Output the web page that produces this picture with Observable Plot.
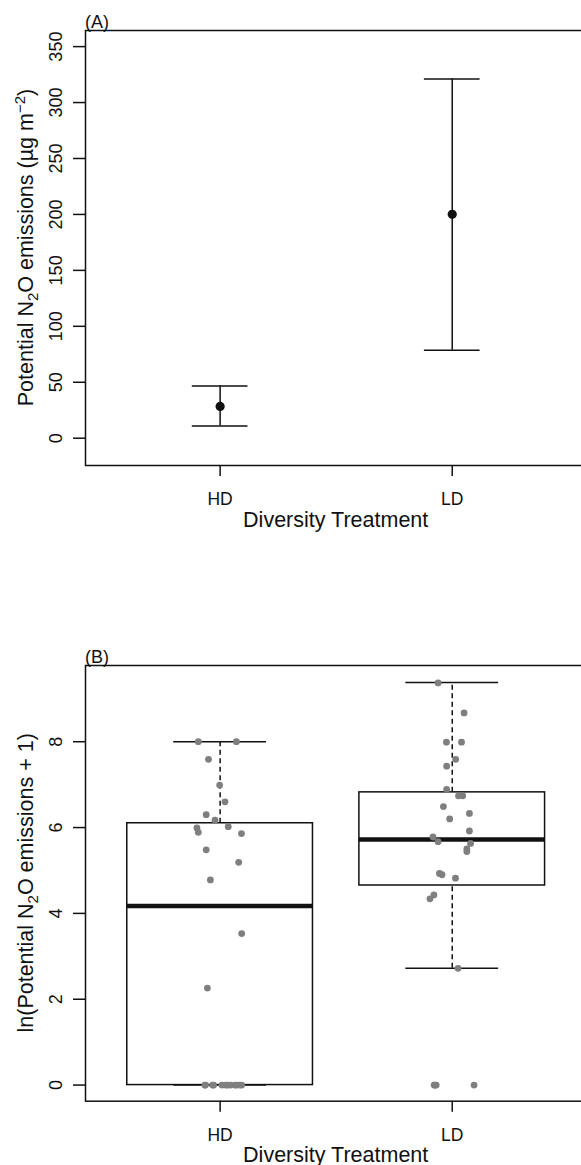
<!DOCTYPE html>
<html>
<head>
<meta charset="utf-8">
<script src="https://cdn.jsdelivr.net/npm/d3@7"></script>
<script src="https://cdn.jsdelivr.net/npm/@observablehq/plot@0.6"></script>
<style>
  html, body { margin: 0; padding: 0; background: #fff; overflow: hidden; width: 581px; height: 1165px; }
  #chart svg { display: block; max-width: none !important; height: auto; }
</style>
</head>
<body>
<div id="chart"></div>
<script>
// ---------- data ----------
const categories = ["HD", "LD"];
const catPos = [1, 2];

// Panel A: mean ± error of potential N2O emissions (µg m-2)
const meanEmission = [28.4, 200.1];
const errLow = [10.8, 78.6];
const errHigh = [46.6, 321.1];
const yTicksA = [0, 50, 100, 150, 200, 250, 300, 350];

// Panel B: ln(potential N2O emissions + 1), individual jittered observations
const hdValues = [8.00, 8.00, 7.59, 6.99, 6.60, 6.30, 6.17, 6.02, 5.99, 5.89, 5.86, 5.48, 5.19, 4.78, 3.53, 2.26,
                  0, 0, 0, 0, 0, 0, 0, 0, 0, 0, 0, 0];
const hdJitter = [-0.094, 0.070, -0.050, -0.002, 0.021, -0.060, -0.022, 0.035, -0.100, -0.094, 0.092, -0.060, 0.080, -0.042, 0.093, -0.055,
                  -0.066, -0.063, -0.032, -0.028, 0.008, 0.025, 0.032, 0.045, 0.064, 0.071, 0.085, 0.093];
const ldValues = [9.37, 8.67, 7.99, 7.99, 7.59, 7.43, 6.89, 6.74, 6.74, 6.49, 6.33, 6.20, 5.92, 5.78, 5.67, 5.63, 5.50, 5.44,
                  4.93, 4.90, 4.82, 4.43, 4.34, 2.72, 0, 0, 0, 0];
const ldJitter = [-0.061, 0.051, -0.025, 0.040, 0.015, -0.024, -0.024, 0.027, 0.045, -0.038, 0.074, -0.011, 0.074, -0.083, -0.061, 0.079, 0.063, 0.063,
                  -0.055, -0.044, 0.014, -0.079, -0.096, 0.025, -0.078, -0.074, -0.069, 0.094];
// box statistics (hinges, median, whisker ends)
const boxQ1 = [0, 4.65];
const boxMedian = [4.17, 5.72];
const boxQ3 = [6.10, 6.82];
const whiskerLo = [0, 2.72];
const whiskerHi = [8.00, 9.38];
const yTicksB = [0, 2, 4, 6, 8];

// ---------- styling constants ----------
const FONT = "'Liberation Sans', Arial, Helvetica, sans-serif";
const INK = "#111";
const LW = 1.5;
const W = 591;
const xDomain = [0.42, 2.6];
const capA = 0.12, boxHalf = 0.4, capB = 0.2;

const tableA = categories.map((c, i) => ({cat: c, x: catPos[i], mean: meanEmission[i], lo: errLow[i], hi: errHigh[i]}));
const tableB = categories.map((c, i) => ({cat: c, x: catPos[i], q1: boxQ1[i], med: boxMedian[i], q3: boxQ3[i], lo: whiskerLo[i], hi: whiskerHi[i]}));
const pts = [
  ...hdValues.map((v, i) => ({cat: "HD", x: catPos[0] + hdJitter[i], v})),
  ...ldValues.map((v, i) => ({cat: "LD", x: catPos[1] + ldJitter[i], v}))
];

function axes(yTicks) {
  return [
    Plot.axisY({ticks: yTicks, tickSize: 12, tickRotate: -90, tickPadding: 12, fontSize: 18, label: null, strokeWidth: LW, stroke: INK, fill: INK}),
    Plot.axisX({ticks: catPos, tickFormat: d => categories[catPos.indexOf(d)], tickSize: 11, tickPadding: 16, fontSize: 17.5, label: null, strokeWidth: LW, stroke: INK, fill: INK})
  ];
}

let xScaleFn;
function decorate(svg, mTop, mBottom, height, panel, titleParts, xTitleBaseline) {
  const s = d3.select(svg);
  const cy = (mTop + height - mBottom) / 2;
  const t = s.append("text")
    .attr("transform", `translate(33,${cy}) rotate(-90)`)
    .attr("text-anchor", "middle")
    .attr("font-family", FONT)
    .attr("font-size", 21.5)
    .attr("fill", INK);
  let shift = 0;
  for (const [str, kind] of titleParts) {
    const sp = t.append("tspan").text(str);
    const target = kind === "sub" ? 5 : kind === "sup" ? -8 : 0;
    sp.attr("dy", target - shift);
    shift = target;
    if (kind) sp.attr("font-size", 15);
  }
  s.append("text")
    .attr("x", (xScaleFn(1) + xScaleFn(2)) / 2)
    .attr("y", xTitleBaseline)
    .attr("text-anchor", "middle")
    .attr("font-family", FONT)
    .attr("font-size", 21.5)
    .attr("fill", INK)
    .text("Diversity Treatment");
  s.append("text")
    .attr("x", 85)
    .attr("y", mTop - 2)
    .attr("text-anchor", "start")
    .attr("font-family", FONT)
    .attr("font-size", 18)
    .attr("fill", INK)
    .text(panel);
}

// ---------- Panel A ----------
const hA = 600, mTA = 30, mBA = 135;
const plotA = Plot.plot({
  width: W, height: hA,
  marginTop: mTA, marginBottom: mBA, marginLeft: 85, marginRight: 0,
  style: {fontFamily: FONT, color: INK, background: "white", overflow: "visible"},
  x: {domain: xDomain},
  y: {domain: [-24.4, 364.4]},
  marks: [
    Plot.frame({stroke: INK, strokeWidth: LW}),
    ...axes(yTicksA),
    Plot.ruleX(tableA, {x: "x", y1: "lo", y2: "hi", stroke: INK, strokeWidth: LW}),
    Plot.ruleY(tableA, {y: "hi", x1: d => d.x - capA, x2: d => d.x + capA, stroke: INK, strokeWidth: LW}),
    Plot.ruleY(tableA, {y: "lo", x1: d => d.x - capA, x2: d => d.x + capA, stroke: INK, strokeWidth: LW}),
    Plot.dot(tableA, {x: "x", y: "mean", r: 4.6, fill: INK, stroke: null})
  ]
});
xScaleFn = v => plotA.scale("x").apply(v);
decorate(plotA, mTA, mBA, hA, "(A)",
  [["Potential N"], ["2", "sub"], ["O emissions (\u00b5g m"], ["\u22122", "sup"], [")"]], 527);

// ---------- Panel B ----------
const hB = 565, mTB = 65, mBB = 64.3;
const plotB = Plot.plot({
  width: W, height: hB,
  marginTop: mTB, marginBottom: mBB, marginLeft: 85, marginRight: 0,
  style: {fontFamily: FONT, color: INK, background: "white", overflow: "visible"},
  x: {domain: xDomain},
  y: {domain: [-0.376, 9.776]},
  marks: [
    Plot.frame({stroke: INK, strokeWidth: LW}),
    ...axes(yTicksB),
    Plot.ruleX(tableB, {x: "x", y1: "q3", y2: "hi", stroke: INK, strokeWidth: LW, strokeDasharray: "5,3.5"}),
    Plot.ruleX(tableB, {x: "x", y1: "lo", y2: "q1", stroke: INK, strokeWidth: LW, strokeDasharray: "5,3.5"}),
    Plot.ruleY(tableB, {y: "hi", x1: d => d.x - capB, x2: d => d.x + capB, stroke: INK, strokeWidth: LW}),
    Plot.ruleY(tableB, {y: "lo", x1: d => d.x - capB, x2: d => d.x + capB, stroke: INK, strokeWidth: LW}),
    Plot.rect(tableB, {x1: d => d.x - boxHalf, x2: d => d.x + boxHalf, y1: "q1", y2: "q3", fill: "none", stroke: INK, strokeWidth: LW}),
    Plot.ruleY(tableB, {y: "med", x1: d => d.x - boxHalf, x2: d => d.x + boxHalf, stroke: INK, strokeWidth: 4.5}),
    Plot.dot(pts, {x: "x", y: "v", r: 3.4, fill: "#7f7f7f", stroke: null})
  ]
});
decorate(plotB, mTB, mBB, hB, "(B)",
  [["ln(Potential N"], ["2", "sub"], ["O emissions + 1)"]], 562);

document.getElementById("chart").append(plotA, plotB);
</script>
</body>
</html>
